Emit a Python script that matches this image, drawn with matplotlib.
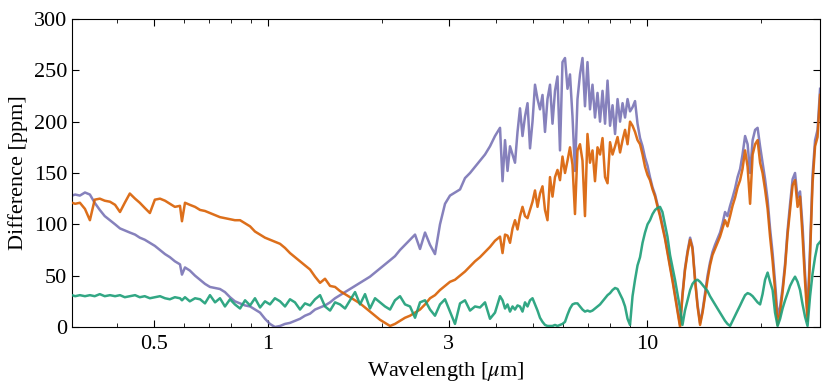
#!/usr/bin/env python3
# -*- coding: utf-8 -*-
"""
Spectral difference plot (ppm) versus wavelength, three model comparisons
"""

import matplotlib
matplotlib.use('Agg')
import matplotlib.pyplot as plt
from matplotlib.ticker import FixedLocator, FixedFormatter, NullFormatter

plt.rcParams['font.family'] = ['Liberation Serif', 'DejaVu Serif']
plt.rcParams['mathtext.fontset'] = 'stix'

# Wavelength grid [micron], visible / near-IR part
wave_short = [0.304, 0.310, 0.319, 0.329, 0.339, 0.349, 0.360, 0.371, 0.383, 0.395,
              0.407, 0.419, 0.432, 0.446, 0.459, 0.473, 0.488, 0.503, 0.519, 0.535,
              0.551, 0.568, 0.586, 0.593, 0.604, 0.622, 0.642, 0.662, 0.682, 0.703,
              0.725, 0.747, 0.770, 0.794, 0.818, 0.844, 0.870, 0.897, 0.924, 0.953,
              0.982, 1.012, 1.043, 1.076, 1.109, 1.143, 1.178, 1.215, 1.252, 1.291,
              1.331, 1.372, 1.414, 1.458, 1.503, 1.549, 1.597, 1.646, 1.697, 1.749,
              1.803, 1.858, 1.916, 1.975, 2.036, 2.099, 2.163, 2.230, 2.299, 2.370,
              2.443, 2.518, 2.596, 2.676, 2.758, 2.843, 2.931, 3.021, 3.114, 3.211,
              3.309, 3.412, 3.517, 3.625, 3.737, 3.852, 3.971]

# Wavelength grid [micron], mid-IR part
wave_long = [4.094, 4.157, 4.220, 4.285, 4.350, 4.417, 4.484, 4.553, 4.622, 4.693,
             4.765, 4.838, 4.912, 4.987, 5.063, 5.141, 5.219, 5.299, 5.380, 5.462,
             5.546, 5.631, 5.717, 5.804, 5.893, 5.983, 6.075, 6.168, 6.262, 6.358,
             6.455, 6.554, 6.654, 6.756, 6.859, 6.964, 7.071, 7.179, 7.289, 7.401,
             7.516, 7.630, 7.748, 7.866, 7.987, 8.109, 8.234, 8.360, 8.488, 8.617,
             8.749, 8.883, 9.018, 9.156, 9.296, 9.438, 9.583, 9.730, 9.878, 10.03,
             10.18, 10.34, 10.50, 10.66, 10.82, 10.98, 11.15, 11.32, 11.50, 11.67,
             11.85, 12.03, 12.22, 12.40, 12.59, 12.79, 12.99, 13.18, 13.38, 13.59,
             13.80, 14.01, 14.22, 14.44, 14.66, 14.88, 15.11, 15.34, 15.58, 15.82,
             16.06, 16.30, 16.56, 16.81, 17.07, 17.33, 17.60, 17.86, 18.14, 18.42,
             18.70, 18.99, 19.28, 19.57, 19.87, 20.17, 20.48, 20.80, 21.11, 21.44,
             21.76, 22.10, 22.44, 22.78, 23.13, 23.48, 23.84, 24.21, 24.57, 24.95,
             25.33, 25.72, 26.11, 26.51, 26.92, 27.33, 27.75, 28.17, 28.61]

# Difference [ppm] - purple series
diff_a_short = [128, 129, 128, 131, 129, 121, 114, 108, 104, 100,
                96, 94, 92, 90, 87, 85, 82, 79, 75, 71,
                68, 64, 61, 51, 58, 55, 50, 46, 42, 39,
                38, 37, 34, 29, 25, 23, 21, 20, 17, 14,
                8, 3, 0, 1, 3, 4, 6, 8, 11, 13,
                17, 19, 21, 24, 28, 31, 34, 37, 40, 43,
                46, 49, 53, 57, 61, 65, 69, 75, 80, 85,
                90, 76, 92, 80, 71, 100, 120, 128, 131, 134,
                145, 150, 156, 162, 168, 176, 186]
diff_a_long = [194, 142, 182, 152, 176, 168, 160, 190, 213, 186,
               205, 218, 174, 200, 236, 222, 212, 226, 190, 222,
               236, 198, 230, 244, 172, 258, 262, 232, 246, 205,
               152, 222, 246, 262, 215, 258, 212, 236, 204, 228,
               200, 230, 198, 240, 196, 216, 188, 222, 200, 218,
               204, 222, 210, 214, 220, 198, 184, 176, 165, 157,
               146, 136, 129, 119, 110, 99, 88, 74, 60, 47,
               32, 17, 2, 32, 57, 74, 87, 78, 48, 22,
               4, 16, 33, 50, 63, 73, 80, 86, 92, 101,
               112, 108, 118, 126, 135, 146, 154, 168, 186, 178,
               150, 182, 192, 194, 176, 160, 144, 124, 96, 72,
               44, 10, 20, 38, 62, 94, 120, 144, 150, 126,
               132, 98, 52, 12, 78, 148, 182, 192, 232]

# Difference [ppm] - orange series
diff_b_short = [121, 120, 121, 115, 104, 124, 125, 123, 122, 119,
                112, 121, 130, 125, 121, 116, 111, 124, 125, 123,
                120, 117, 118, 103, 121, 119, 117, 114, 113, 111,
                109, 107, 106, 105, 104, 104, 101, 98, 93, 90,
                87, 85, 83, 81, 77, 72, 68, 64, 60, 56,
                49, 43, 47, 40, 39, 35, 32, 29, 26, 23,
                19, 15, 11, 7, 4, 1, 3, 6, 9, 11,
                14, 17, 22, 28, 31, 36, 40, 44, 46, 50,
                54, 59, 64, 68, 73, 78, 84]
diff_b_long = [88, 72, 90, 89, 82, 96, 104, 95, 108, 117,
               108, 106, 114, 122, 133, 117, 130, 137, 114, 104,
               146, 127, 146, 153, 143, 166, 150, 162, 175, 158,
               110, 172, 178, 162, 108, 188, 160, 172, 142, 175,
               168, 184, 146, 140, 180, 168, 176, 185, 170, 182,
               192, 178, 200, 196, 190, 182, 178, 168, 156, 148,
               143, 134, 127, 117, 108, 97, 86, 72, 58, 45,
               30, 15, 0, 30, 55, 72, 85, 76, 46, 20,
               2, 14, 30, 46, 60, 70, 76, 82, 88, 96,
               104, 98, 108, 118, 126, 136, 143, 154, 172, 156,
               120, 168, 178, 182, 160, 150, 134, 115, 88, 64,
               36, 2, 14, 34, 58, 90, 114, 138, 143, 117,
               127, 88, 44, 6, 70, 140, 176, 185, 226]

# Difference [ppm] - green series
diff_c_short = [31, 30, 31, 30, 31, 30, 32, 30, 31, 30,
                31, 29, 30, 31, 29, 30, 28, 29, 30, 28,
                27, 29, 28, 26, 29, 25, 28, 27, 23, 31,
                24, 28, 20, 27, 22, 18, 26, 21, 28, 19,
                25, 22, 28, 25, 20, 27, 24, 17, 23, 21,
                27, 31, 20, 16, 24, 22, 18, 26, 34, 22,
                32, 18, 28, 24, 20, 17, 26, 30, 22, 20,
                9, 24, 26, 17, 11, 22, 27, 15, 3, 23,
                26, 16, 20, 19, 24, 8, 14]
diff_c_long = [30, 26, 18, 22, 15, 20, 17, 21, 20, 15,
               24, 20, 26, 28, 22, 16, 9, 5, 2, 1,
               1, 1, 2, 1, 2, 3, 5, 12, 18, 22,
               23, 23, 20, 17, 15, 16, 15, 16, 18, 20,
               22, 25, 28, 31, 33, 36, 38, 37, 32, 27,
               20, 8, 2, 30, 46, 60, 68, 82, 92, 100,
               104, 110, 114, 116, 117, 112, 100, 88, 70, 58,
               46, 32, 18, 2, 16, 26, 36, 42, 45, 46,
               44, 41, 38, 35, 30, 26, 22, 18, 14, 10,
               6, 3, 1, 6, 11, 16, 21, 26, 31, 33,
               32, 30, 27, 24, 22, 32, 46, 53, 44, 36,
               14, 1, 8, 18, 26, 33, 40, 45, 49, 44,
               36, 22, 10, 1, 30, 52, 68, 80, 83]

COLOR_A = '#7570b3'
COLOR_B = '#d95f02'
COLOR_C = '#1b9e77'


def create_difference_chart():
    """Plot the three difference spectra on a log wavelength axis"""
    wave = wave_short + wave_long
    diff_a = diff_a_short + diff_a_long
    diff_b = diff_b_short + diff_b_long
    diff_c = diff_c_short + diff_c_long

    fig = plt.figure(figsize=(8.3, 3.89), dpi=100)
    ax = fig.add_axes([0.0867, 0.1594, 0.9013, 0.7918])

    ax.plot(wave, diff_a, color=COLOR_A, lw=1.8, alpha=0.88, zorder=2)
    ax.plot(wave, diff_b, color=COLOR_B, lw=1.8, alpha=0.9, zorder=3)
    ax.plot(wave, diff_c, color=COLOR_C, lw=1.8, alpha=0.9, zorder=4)

    ax.set_xscale('log')
    ax.set_xlim(0.304, 28.6)
    ax.set_ylim(0, 300)

    ax.xaxis.set_major_locator(FixedLocator([0.5, 1, 3, 10]))
    ax.xaxis.set_major_formatter(FixedFormatter(['0.5', '1', '3', '10']))
    ax.xaxis.set_minor_locator(FixedLocator([0.4, 0.6, 0.7, 0.8, 0.9, 2, 4, 5, 6, 7, 8, 9, 20]))
    ax.xaxis.set_minor_formatter(NullFormatter())
    ax.set_yticks([0, 50, 100, 150, 200, 250, 300])

    ax.tick_params(which='both', direction='in', top=True, right=True, labelsize=16)
    ax.tick_params(which='major', length=5, width=0.8)
    ax.tick_params(which='minor', length=3, width=0.6)
    ax.tick_params(axis='x', pad=6)

    ax.set_xlabel(r'Wavelength [$\mu$m]', fontsize=16)
    ax.set_ylabel('Difference [ppm]', fontsize=16)

    fig.savefig('out.png', dpi=100)
    plt.close(fig)


def main():
    create_difference_chart()


if __name__ == "__main__":
    main()
